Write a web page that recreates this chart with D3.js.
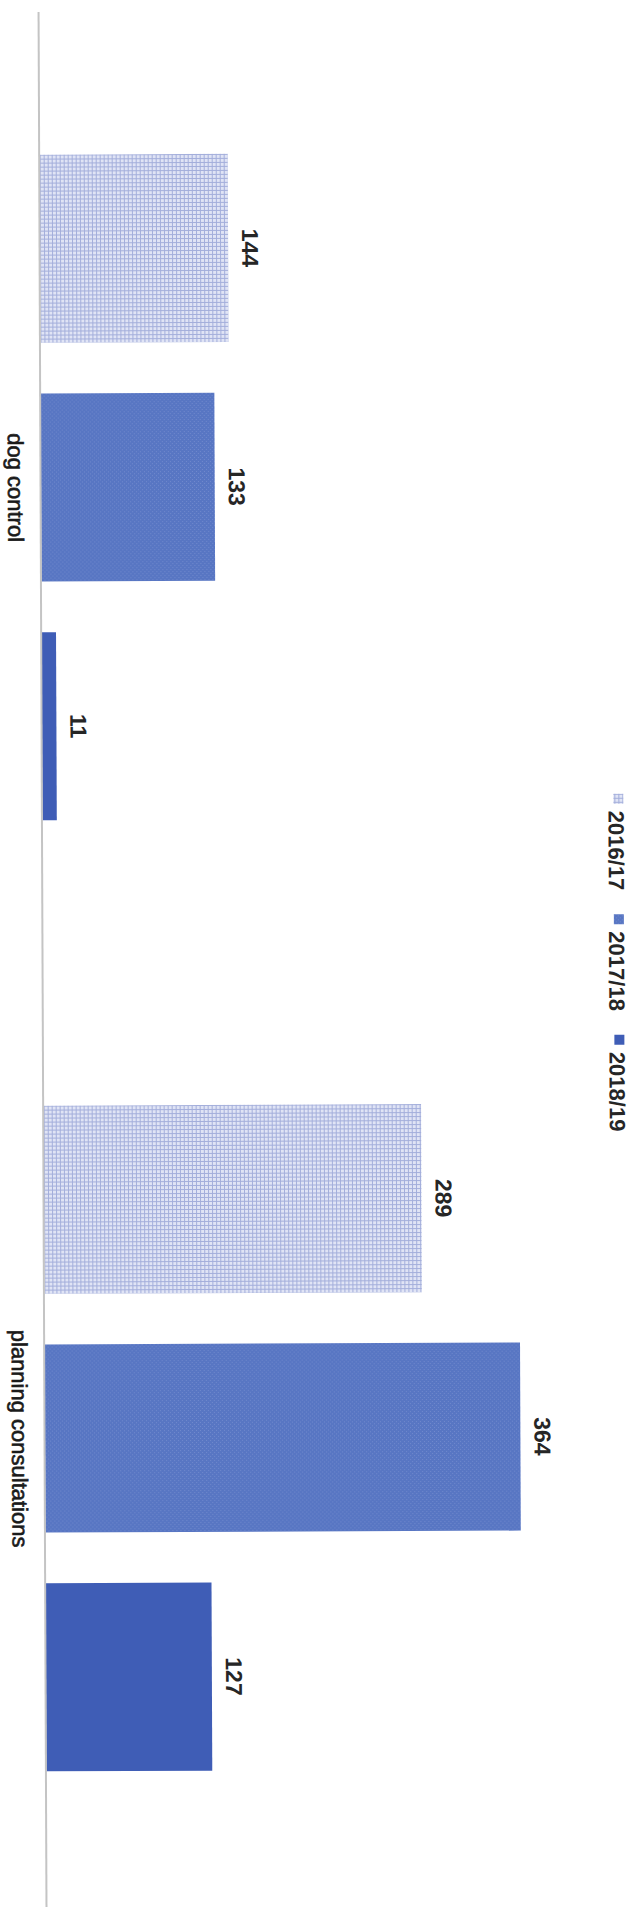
<!DOCTYPE html>
<html>
<head>
<meta charset="utf-8">
<script src="https://cdn.jsdelivr.net/npm/d3@7"></script>
<style>
    html, body { margin: 0; padding: 0; background: #fff; }
    svg { display: block; }
    text { font-family: "Liberation Sans", Arial, sans-serif; }
</style>
</head>
<body>
<div class="chart-holder"></div>
<script>
(function () {

    'use strict';

    var categories = ['dog control', 'planning consultations'];
    var seriesNames = ['2016/17', '2017/18', '2018/19'];
    var values1617 = [144, 289];
    var values1718 = [133, 364];
    var values1819 = [11, 127];
    var valueTicks = [0, 400];

    var seriesValues = [values1617, values1718, values1819];

    var pageWidth = 636;
    var pageHeight = 1907;

    // the chart is drawn upright, then turned a quarter clockwise (plus the scan skew)
    var chartWidth = pageHeight;
    var chartHeight = pageWidth;
    var baseline = 597;

    var svg = d3.select('.chart-holder')
        .append('svg')
        .attr('width', pageWidth)
        .attr('height', pageHeight);

    var defs = svg.append('defs');

    // light gridded fill for 2016/17
    var gridPat = defs.append('pattern')
        .attr('id', 'fill1617')
        .attr('patternUnits', 'userSpaceOnUse')
        .attr('width', 4)
        .attr('height', 4);
    gridPat.append('rect').attr('width', 4).attr('height', 4).attr('fill', '#e0e4f5');
    gridPat.append('rect').attr('width', 4).attr('height', 1).attr('fill', '#a3aedb');
    gridPat.append('rect').attr('width', 1).attr('height', 4).attr('fill', '#a3aedb');

    // stippled mid blue for 2017/18
    var dotPat = defs.append('pattern')
        .attr('id', 'fill1718')
        .attr('patternUnits', 'userSpaceOnUse')
        .attr('width', 4)
        .attr('height', 4);
    dotPat.append('rect').attr('width', 4).attr('height', 4).attr('fill', '#5876c3');
    dotPat.append('rect').attr('x', 1).attr('y', 1).attr('width', 1).attr('height', 1).attr('fill', '#7089cd');
    dotPat.append('rect').attr('x', 3).attr('y', 3).attr('width', 1).attr('height', 1).attr('fill', '#7089cd');

    var color = d3.scaleOrdinal()
        .domain(seriesNames)
        .range(['url(#fill1617)', 'url(#fill1718)', '#3f5db6']);

    var chart = svg.append('g')
        .attr('transform', 'translate(' + pageWidth + ',-2.5) rotate(89.76)');

    var x0 = d3.scaleBand()
        .domain(categories)
        .range([12, 1914])
        .paddingInner(0.3)
        .paddingOuter(0.15);

    var x1 = d3.scaleBand()
        .domain(seriesNames)
        .range([0, x0.bandwidth()])
        .paddingInner(0.212);

    var y = d3.scaleLinear()
        .domain(valueTicks)
        .range([baseline, baseline - 522.4]);

    var rows = categories.map(function (cat, i) {
        return {
            category: cat,
            items: seriesNames.map(function (name, s) {
                return {series: name, value: seriesValues[s][i]};
            })
        };
    });

    var groups = chart.selectAll('.group')
        .data(rows)
        .enter()
        .append('g')
        .attr('class', 'group')
        .attr('transform', function (d) { return 'translate(' + x0(d.category) + ',0)'; });

    groups.selectAll('rect')
        .data(function (d) { return d.items; })
        .enter()
        .append('rect')
        .attr('x', function (d) { return x1(d.series); })
        .attr('y', function (d) { return y(d.value); })
        .attr('width', x1.bandwidth())
        .attr('height', function (d) { return y(0) - y(d.value); })
        .attr('fill', function (d) { return color(d.series); });

    groups.selectAll('.value-label')
        .data(function (d) { return d.items; })
        .enter()
        .append('text')
        .attr('class', 'value-label')
        .attr('x', function (d) { return x1(d.series) + x1.bandwidth() / 2; })
        .attr('y', function (d) { return y(d.value) - 14; })
        .attr('text-anchor', 'middle')
        .style('font-size', '23px')
        .style('font-weight', 'bold')
        .attr('fill', '#262626')
        .text(function (d) { return d.value; });

    // category axis line
    chart.append('line')
        .attr('x1', 12)
        .attr('x2', chartWidth + 10)
        .attr('y1', y(0) + 0.5)
        .attr('y2', y(0) + 0.5)
        .attr('stroke', '#c4c4c4')
        .attr('stroke-width', 2);

    var xAxis = d3.axisBottom(x0).tickSize(0).tickPadding(0);

    var axisG = chart.append('g')
        .attr('transform', 'translate(0,' + (y(0) + 33) + ')')
        .call(xAxis);
    axisG.select('.domain').remove();
    axisG.selectAll('text')
        .attr('dy', 0)
        .style('font-size', '22px')
        .attr('fill', '#1a1a1a')
        .attr('stroke', '#1a1a1a')
        .attr('stroke-width', 0.6);

    // legend along the top of the upright chart
    var legend = chart.append('g').attr('class', 'legend');

    var items = legend.selectAll('.legend-item')
        .data(seriesNames)
        .enter()
        .append('g')
        .attr('class', 'legend-item');

    items.append('rect')
        .attr('x', 0)
        .attr('y', chartHeight - 620)
        .attr('width', 10)
        .attr('height', 10)
        .attr('fill', function (d) { return color(d); });

    items.append('text')
        .attr('x', 17)
        .attr('y', chartHeight - 605)
        .style('font-size', '22px')
        .style('font-weight', 'bold')
        .attr('fill', '#262626')
        .text(function (d) { return d; });

    var offsets = [];
    var cursor = 0;
    items.each(function () {
        offsets.push(cursor);
        cursor += 17 + this.querySelector('text').getComputedTextLength() + 24;
    });
    var legendWidth = cursor - 24;
    var legendStart = (x0.range()[0] + x0.range()[1]) / 2 + 2 - legendWidth / 2;

    items.attr('transform', function (d, i) {
        return 'translate(' + (legendStart + offsets[i]) + ',0)';
    });

}());
</script>
</body>
</html>
